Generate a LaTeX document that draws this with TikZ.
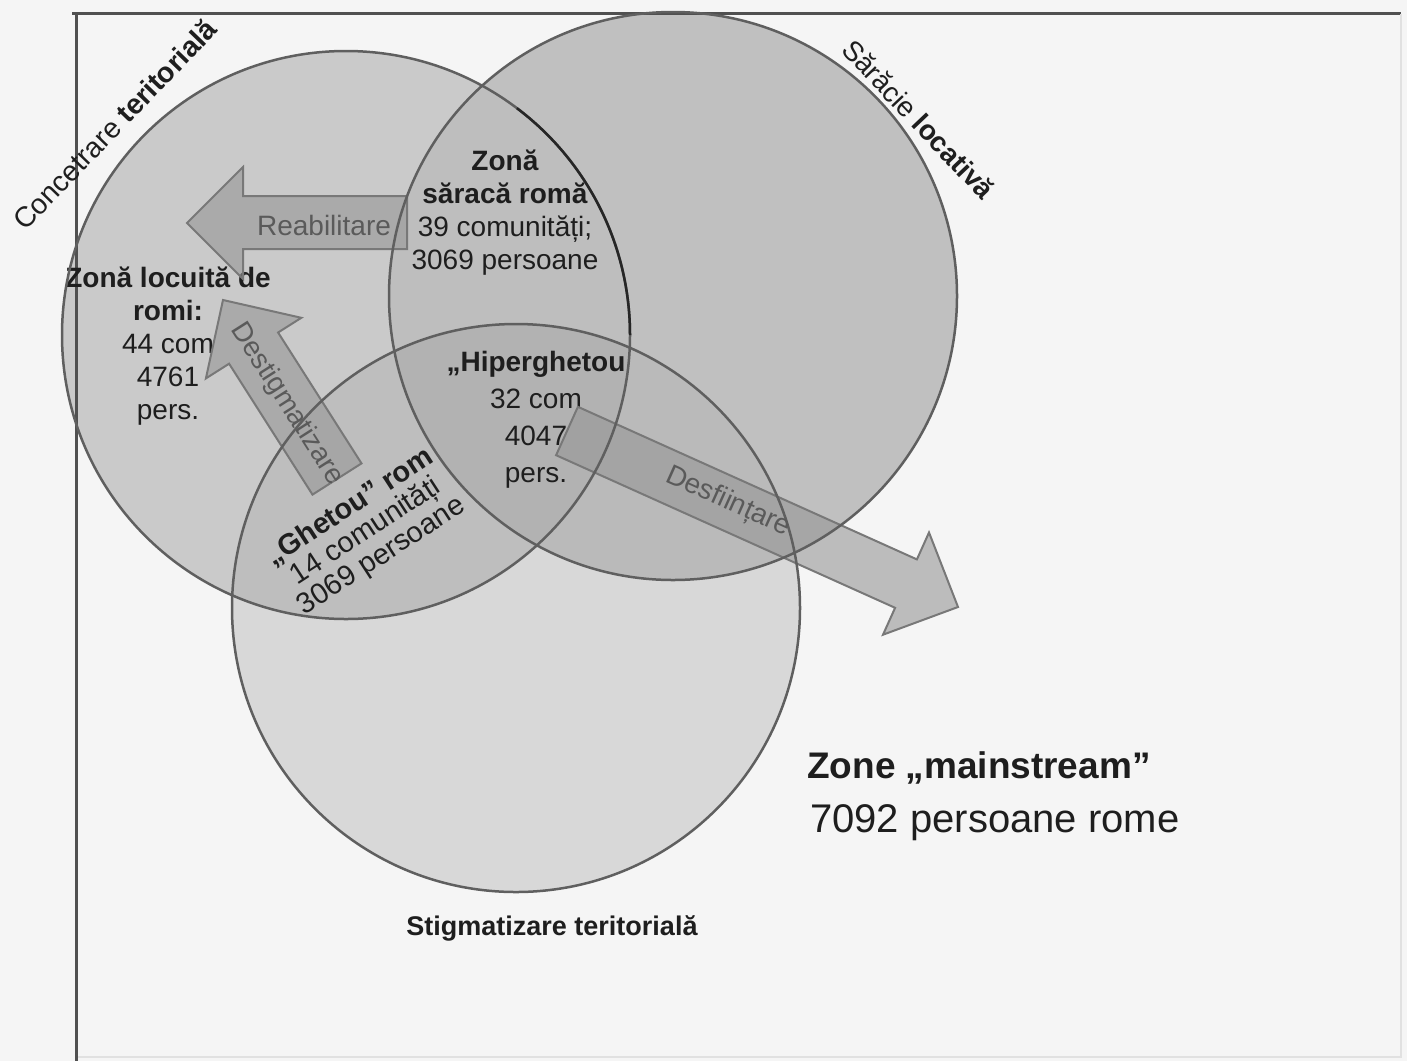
\documentclass[tikz,border=0pt]{standalone}
\usepackage{fontspec}
\setmainfont{Liberation Sans}
\definecolor{bgc}{RGB}{245,245,245}
\definecolor{cA}{RGB}{202,202,202}
\definecolor{cB}{RGB}{192,192,192}
\definecolor{cC}{RGB}{216,216,216}
\definecolor{cAB}{RGB}{190,190,190}
\definecolor{cAC}{RGB}{190,190,190}
\definecolor{cBC}{RGB}{186,186,186}
\definecolor{cABC}{RGB}{178,178,178}
\definecolor{ringc}{RGB}{95,95,95}
\definecolor{framec}{RGB}{80,80,80}
\definecolor{faintc}{RGB}{225,225,225}
\definecolor{arrfill}{RGB}{150,150,150}
\definecolor{arrline}{RGB}{120,120,120}
\definecolor{arrtxt}{RGB}{90,90,90}
\definecolor{txtc}{RGB}{30,30,30}
\begin{document}
\begin{tikzpicture}[x=1pt,y=-1pt]
\tikzset{
  lbl/.style={inner sep=0pt, text=txtc, align=center, font=\fontsize{28}{33}\selectfont},
  arrowbody/.style={fill=arrfill, fill opacity=0.6, draw=arrline, line width=2pt, line join=miter},
  ring/.style={draw=ringc, line width=2.5pt},
  arrlbl/.style={inner sep=0pt, text=arrtxt, font=\fontsize{28}{28}\selectfont},
}
\useasboundingbox (0,0) rectangle (1407,1061);
\fill[bgc] (0,0) rectangle (1407,1061);
\coordinate (C1) at (346,335);
\coordinate (C2) at (673,296);
\coordinate (C3) at (516,608);
% region fills
\fill[cC] (C3) circle[radius=284pt];
\fill[cA] (C1) circle[radius=284pt];
\fill[cB] (C2) circle[radius=284pt];
\begin{scope}\clip (C1) circle[radius=284pt]; \fill[cAB] (C2) circle[radius=284pt];\end{scope}
\begin{scope}\clip (C3) circle[radius=284pt]; \fill[cAC] (C1) circle[radius=284pt];\end{scope}
\begin{scope}\clip (C3) circle[radius=284pt]; \fill[cBC] (C2) circle[radius=284pt];\end{scope}
\begin{scope}\clip (C1) circle[radius=284pt]; \clip (C3) circle[radius=284pt]; \fill[cABC] (C2) circle[radius=284pt];\end{scope}
% frame
\draw[framec, line width=3pt] (72,13) -- (1401,13);
\draw[framec, line width=3pt] (76,12) -- (76,1061);
\draw[faintc, line width=1.5pt] (1401,14) -- (1401,1057) -- (78,1057);
% region labels
\node[lbl] (saraca) at (505,213) {\textbf{Zonă}\\\textbf{săracă romă}\\39 comunități;\\3069 persoane};
\node[lbl] (locuita) at (168,346) {\textbf{Zonă locuită de}\\\textbf{romi:}\\44 com\\4761\\pers.};
\node[lbl, font=\fontsize{28}{37}\selectfont] (hiper) at (536,420) {\textbf{„Hiperghetou}\\32 com\\4047\\pers.};
\node[lbl, rotate=33, font=\fontsize{29}{29}\selectfont] (ghetou) at (366,532) {\textbf{„Ghetou” rom}\\14 comunități\\3069 persoane};
% block arrows
\draw[arrowbody] (187,223) -- (243,167) -- (243,196) -- (407,196) -- (407,249) -- (243,249) -- (243,279) -- cycle;
\draw[arrowbody] (223,300) -- (301.3,317.8) -- (278.1,332.5) -- (361.5,463.4) -- (312.5,494.6) -- (229.1,363.7) -- (205.9,378.4) -- cycle;
\draw[arrowbody] (958,607) -- (929,532.5) -- (916.9,559.4) -- (577.9,406.8) -- (556.1,455.2) -- (895.1,607.8) -- (883,634.7) -- cycle;
% circle outlines
\draw[ring] (C1) circle[radius=284pt];
\draw[ring] (C2) circle[radius=284pt];
\draw[ring] (C3) circle[radius=284pt];
\draw[black!85, line width=2.5pt] (C1) ++(53:284pt) arc[start angle=53, end angle=0, radius=284pt];
% arrow labels
\node[arrlbl] (reab) at (324,225) {Reabilitare};
\node[arrlbl, rotate=-57.5] (destig) at (287,404) {Destigmatizare};
\node[arrlbl, rotate=-24.2] (desf) at (728,502) {Desființare};
% circle titles
\node[lbl, anchor=base west, rotate=46, font=\fontsize{28.5}{28.5}\selectfont] (conc) at (25,232) {Concetrare \textbf{teritorială}};
\node[lbl, anchor=base west, rotate=-46.5] (sarac) at (840,51) {Sărăcie \textbf{locativă}};
\node[lbl, anchor=base, font=\bfseries\fontsize{27}{27}\selectfont] (stig) at (552,935) {Stigmatizare teritorială};
% mainstream
\node[lbl, anchor=base west, font=\bfseries\fontsize{37}{37}\selectfont] (main1) at (807,778) {Zone „mainstream”};
\node[lbl, anchor=base west, font=\fontsize{40}{40}\selectfont] (main2) at (810,832) {7092 persoane rome};
\end{tikzpicture}
\end{document}
